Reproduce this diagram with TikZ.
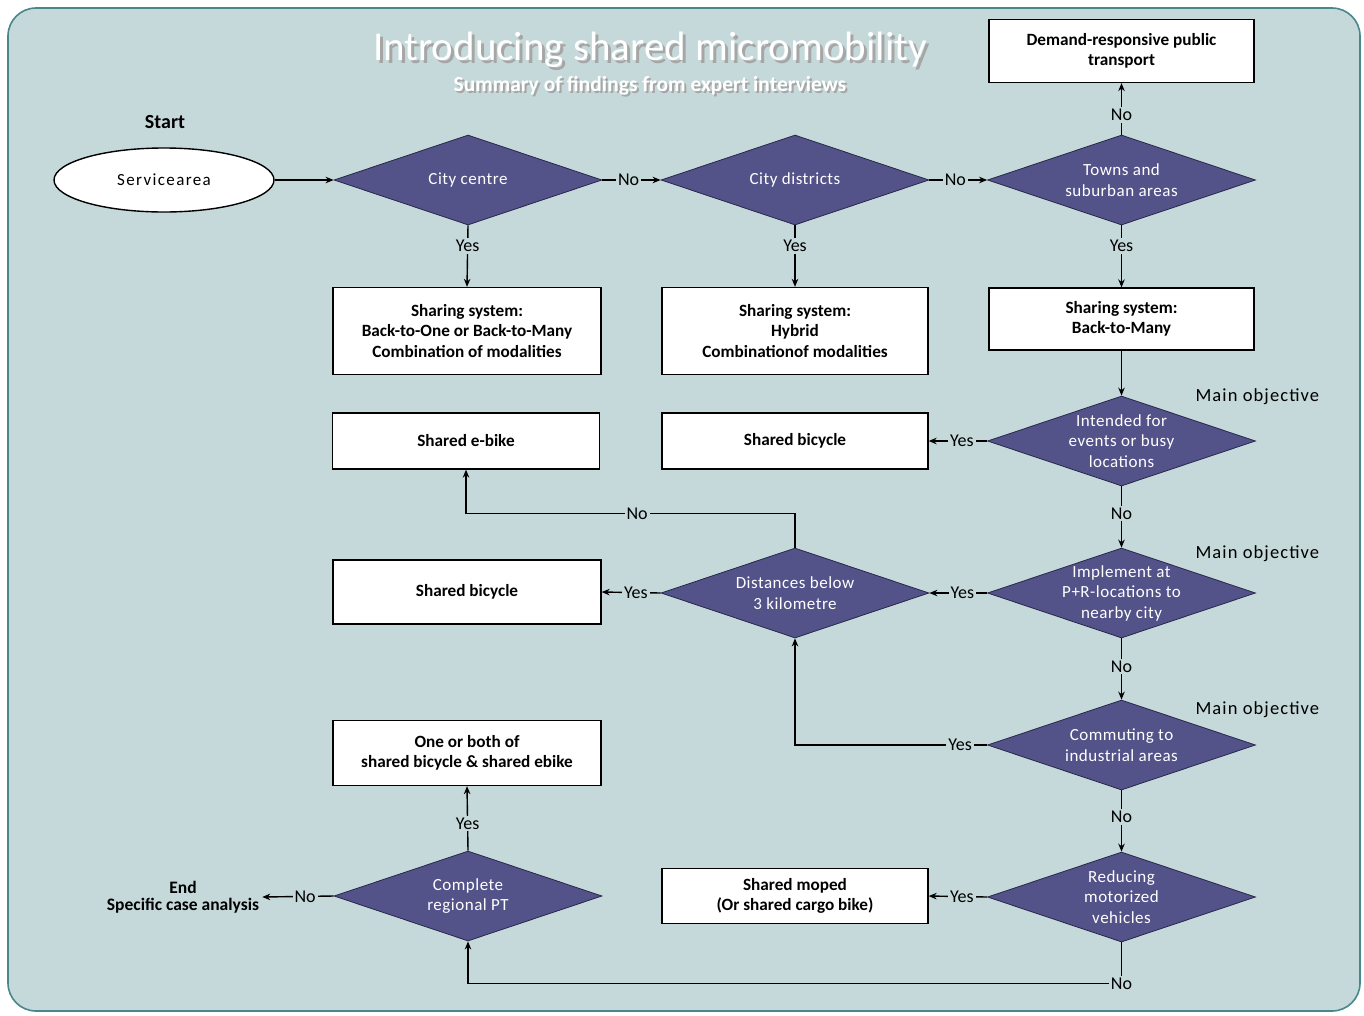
\documentclass[tikz,border=0pt]{standalone}
\usepackage{fontspec}
\setmainfont{Carlito}
\usetikzlibrary{shapes.geometric,arrows.meta,calc}
\definecolor{panel}{RGB}{197,217,218}
\definecolor{panelline}{RGB}{72,135,140}
\definecolor{decision}{RGB}{83,82,137}
\definecolor{decisionline}{RGB}{40,40,75}
\tikzset{
  box/.style={rectangle, draw=black, fill=white, line width=1.3pt, align=center,
    inner sep=2pt, font=\fontsize{17.2}{20.5}\selectfont\bfseries},
  decide/.style={diamond, draw=decisionline, fill=decision, line width=0.8pt,
    inner sep=0pt, minimum width=268pt, minimum height=90pt},
  dtext/.style={text=white, align=center,
    font=\fontsize{17}{20.5}\selectfont\addfontfeatures{LetterSpace=3}},
  lab/.style={fill=panel, inner sep=2pt, font=\fontsize{18}{20}\selectfont},
  arr/.style={line width=1.4pt, -{Stealth[length=8pt,width=6.5pt]}},
  objective/.style={anchor=west,
    font=\fontsize{18.5}{20}\selectfont\addfontfeatures{LetterSpace=6}},
}
\begin{document}
\begin{tikzpicture}[x=1pt,y=-1pt]
\useasboundingbox (0,0) rectangle (1364,1015);
\fill[white] (0,0) rectangle (1364,1015);
% panel
\draw[panelline, fill=panel, line width=1.6pt, rounded corners=28pt] (8,8) rectangle (1360,1011);

% title with soft shadow
\node[text=gray!70, font=\fontsize{41}{44}\selectfont] at (653,53) {Introducing shared micromobility};
\node[text=white, font=\fontsize{41}{44}\selectfont] (title) at (650,50) {Introducing shared micromobility};
\node[text=gray!70, font=\fontsize{21.5}{24}\selectfont\bfseries] at (652,88) {Summary of findings from expert interviews};
\node[text=white, font=\fontsize{21.5}{24}\selectfont\bfseries] (subtitle) at (650,86) {Summary of findings from expert interviews};

% start
\node[font=\fontsize{20}{22}\selectfont\bfseries] (start) at (165,122) {Start};
\node[ellipse, draw=black, fill=white, line width=1.4pt, minimum width=220pt, minimum height=64pt,
      font=\fontsize{17}{20}\selectfont\addfontfeatures{LetterSpace=8}] (area) at (164,180) {Servicearea};

% decisions
\node[decide, label={[dtext]center:City centre}] (d1) at (468,180) {};
\node[decide, label={[dtext]center:City districts}] (d2) at (795,180) {};
\node[decide, label={[dtext]center:Towns and\\suburban areas}] (d3) at (1121.5,180) {};
\node[decide, label={[dtext]center:Intended for\\events or busy\\locations}] (d4) at (1121.5,441) {};
\node[decide, label={[dtext]center:Implement at\\P+R-locations to\\nearby city}] (d5) at (1121.5,593) {};
\node[decide, label={[dtext]center:Distances below\\3 kilometre}] (d6) at (795,593) {};
\node[decide, label={[dtext]center:Commuting to\\industrial areas}] (d7) at (1121.5,745) {};
\node[decide, label={[dtext]center:Reducing\\motorized\\vehicles}] (d8) at (1121.5,897) {};
\node[decide, label={[dtext]center:Complete\\regional PT}] (d9) at (468,896) {};

% outcomes
\node[box, minimum width=265pt, minimum height=63pt] (drt) at (1121.5,51) {Demand-responsive public\\transport};
\node[box, minimum width=268pt, minimum height=87pt] (s1) at (467,331) {Sharing system:\\Back-to-One or Back-to-Many\\Combination of modalities};
\node[box, minimum width=266pt, minimum height=87pt] (s2) at (795,331) {Sharing system:\\Hybrid\\Combinationof modalities};
\node[box, minimum width=265pt, minimum height=62pt] (s3) at (1121.5,319) {Sharing system:\\Back-to-Many};
\node[box, minimum width=266pt, minimum height=56pt] (bike1) at (795,441) {Shared bicycle};
\node[box, minimum width=267pt, minimum height=56pt] (ebike) at (466,441) {Shared e-bike};
\node[box, minimum width=268pt, minimum height=64pt] (bike2) at (467,592) {Shared bicycle};
\node[box, minimum width=268pt, minimum height=65pt] (both) at (467,753) {One or both of\\shared bicycle \& shared ebike};
\node[box, minimum width=266pt, minimum height=55pt] (moped) at (795,896) {Shared moped\\(Or shared cargo bike)};
\node[align=center, inner sep=3pt, font=\fontsize{17.5}{17.5}\selectfont\bfseries] (end) at (183,897) {End\\Specific case analysis};

% main objective notes
\node[objective] (m1) at (1192,397) {Main objective};
\node[objective] (m2) at (1192,554) {Main objective};
\node[objective] (m3) at (1192,710) {Main objective};

% connectors
\draw[arr] (area) -- (d1);
\draw[arr] (d1.east) -- node[lab, pos=0.45]{No} (d2.west);
\draw[arr] (d2.east) -- node[lab, pos=0.45]{No} (d3.west);
\draw[arr] (d3.north) -- node[lab, pos=0.38]{No} (drt.south);
\draw[arr] (d1.south) -- node[lab, pos=0.33]{Yes} (s1.north);
\draw[arr] (d2.south) -- node[lab, pos=0.33]{Yes} (s2.north);
\draw[arr] (d3.south) -- node[lab, pos=0.33]{Yes} (s3.north);
\draw[arr] (s3.south) -- (d4.north);
\draw[arr] (d4.west) -- node[lab, pos=0.43]{Yes} (bike1.east);
\draw[arr] (d4.south) -- node[lab, pos=0.44]{No} (d5.north);
\draw[arr] (d5.west) -- node[lab, pos=0.43]{Yes} (d6.east);
\draw[arr] (d6.west) -- node[lab, pos=0.42]{Yes} (bike2.east);
\draw[arr] (d6.north) -- ++(0,-34) -| node[lab, pos=0.24]{No} (ebike.south);
\draw[arr] (d5.south) -- node[lab, pos=0.46]{No} (d7.north);
\draw[arr] (d7.west) -| node[lab, pos=0.07]{Yes} (d6.south);
\draw[arr] (d7.south) -- node[lab, pos=0.43]{No} (d8.north);
\draw[arr] (d8.west) -- node[lab, pos=0.43]{Yes} (moped.east);
\coordinate (turn) at ($(d8.south)+(0,41)$);
\draw[arr] (d8.south) -- (turn) node[lab]{No} -| (d9.south);
\draw[arr] (d9.north) -- node[lab, pos=0.42]{Yes} (both.south);
\draw[arr] (d9.west) -- node[lab, pos=0.4]{No} (end.east);
\end{tikzpicture}
\end{document}
